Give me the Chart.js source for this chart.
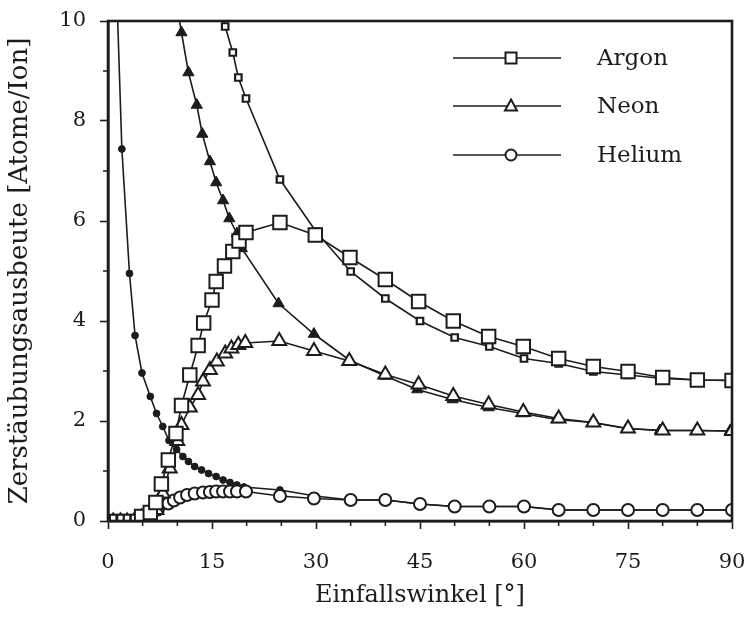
<!DOCTYPE html>
<html>
<head>
<meta charset="utf-8">
<script src="https://cdn.jsdelivr.net/npm/chart.js@4.4.1/dist/chart.umd.min.js"></script>
<style>
html,body{margin:0;padding:0;background:#fff;}
#wrap{width:747px;height:620px;}
</style>
</head>
<body>
<div id="wrap"><canvas id="c" width="747" height="620"></canvas></div>
<script>
// ---- data ----
const xTicks = [0, 15, 30, 45, 60, 75, 90];
const yTicks = [0, 2, 4, 6, 8, 10];

// Argon, rising curve (open squares)
const argonRiseX = [0.75, 1.8, 2.75, 3.75, 4.85, 6.1, 6.9, 7.7, 8.7, 9.8, 10.6, 11.8, 13.0, 13.8, 15.0, 15.6, 16.8, 18.0, 18.9, 19.9, 24.8, 29.9, 34.9, 40, 44.8, 49.8, 54.9, 59.9, 65, 70, 75, 80, 85, 90];
const argonRiseY = [0.06, 0.06, 0.06, 0.06, 0.09, 0.17, 0.37, 0.74, 1.22, 1.75, 2.31, 2.92, 3.51, 3.96, 4.42, 4.79, 5.10, 5.39, 5.60, 5.77, 5.97, 5.72, 5.27, 4.83, 4.39, 4.00, 3.69, 3.49, 3.25, 3.09, 2.99, 2.87, 2.82, 2.81];
// Argon, falling curve (small squares)
const argonFallX = [16, 16.9, 18.0, 18.8, 19.9, 24.8, 30, 35, 40, 45, 50, 55, 60, 65, 70, 75, 80, 85, 90];
const argonFallY = [10.35, 9.89, 9.37, 8.87, 8.45, 6.83, 5.79, 4.99, 4.45, 4.00, 3.67, 3.49, 3.25, 3.15, 2.99, 2.92, 2.85, 2.82, 2.81];

// Neon, rising curve (open triangles)
const neonRiseX = [0.75, 1.8, 2.75, 3.75, 4.85, 6.0, 7.0, 7.9, 8.9, 10.0, 10.6, 11.8, 13.0, 13.7, 14.7, 15.7, 16.9, 17.8, 18.8, 19.8, 24.7, 29.7, 34.8, 40, 44.8, 49.8, 54.9, 59.9, 65, 70, 75, 80, 85, 90];
const neonRiseY = [0.06, 0.06, 0.06, 0.06, 0.07, 0.10, 0.22, 0.55, 1.05, 1.60, 1.92, 2.27, 2.52, 2.79, 3.02, 3.19, 3.35, 3.45, 3.52, 3.56, 3.60, 3.40, 3.20, 2.93, 2.73, 2.50, 2.33, 2.18, 2.05, 1.97, 1.85, 1.81, 1.81, 1.80];
// Neon, falling curve (filled triangles)
const neonFallX = [10, 10.6, 11.6, 12.8, 13.6, 14.7, 15.6, 16.6, 17.5, 18.6, 19.3, 24.6, 29.7, 34.8, 40, 44.6, 49.7, 54.9, 59.8, 64.7, 69.8, 74.8, 79.6, 84.8, 89.7];
const neonFallY = [10.25, 9.77, 8.97, 8.32, 7.74, 7.19, 6.77, 6.41, 6.05, 5.75, 5.45, 4.35, 3.74, 3.22, 2.90, 2.63, 2.43, 2.27, 2.15, 2.03, 1.97, 1.85, 1.81, 1.81, 1.80];

// Helium, rising curve (open circles)
const heliumRiseX = [0.75, 1.8, 2.75, 3.75, 4.85, 7.2, 8.7, 9.5, 10.4, 11.4, 12.5, 13.7, 14.7, 15.6, 16.6, 17.6, 18.6, 19.9, 24.8, 29.7, 35, 40, 45, 50, 55, 60, 65, 70, 75, 80, 85, 90];
const heliumRiseY = [0.06, 0.06, 0.06, 0.06, 0.06, 0.23, 0.35, 0.41, 0.47, 0.52, 0.55, 0.57, 0.58, 0.59, 0.59, 0.59, 0.59, 0.59, 0.50, 0.45, 0.42, 0.42, 0.34, 0.29, 0.29, 0.29, 0.22, 0.22, 0.22, 0.22, 0.22, 0.22];
// Helium, falling curve (small filled circles)
const heliumFallX = [1, 2.0, 3.1, 3.9, 4.9, 6.1, 7.0, 7.9, 8.8, 9.9, 10.8, 11.6, 12.5, 13.5, 14.5, 15.6, 16.6, 17.6, 18.6, 19.6, 24.8, 29.9, 35, 40, 45, 50, 55, 60, 65, 70, 75, 80, 85, 90];
const heliumFallY = [11.7, 7.44, 4.95, 3.71, 2.96, 2.49, 2.15, 1.89, 1.61, 1.43, 1.29, 1.19, 1.09, 1.02, 0.95, 0.89, 0.82, 0.77, 0.72, 0.68, 0.62, 0.50, 0.42, 0.42, 0.34, 0.29, 0.29, 0.29, 0.22, 0.22, 0.22, 0.22, 0.22, 0.22];

const legendNames = ['Argon', 'Neon', 'Helium'];
const xTitle = 'Einfallswinkel [°]';
const yTitle = 'Zerstäubungsausbeute [Atome/Ion]';

// ---- styling ----
const INK = '#1c1c1c';
const FONT = "'DejaVu Serif', 'Liberation Serif', serif";

function pts(xs, ys) { return xs.map((x, i) => ({x: x, y: ys[i]})); }
function smallLow(big, small) {
  return function (ctx) { const r = ctx.raw; return (r && r.x < 4.5) ? small : big; };
}

function ds(label, xs, ys, style, radius, fill, bw) {
  return {
    label: label,
    data: pts(xs, ys),
    borderColor: INK,
    borderWidth: 1.6,
    pointStyle: style,
    pointRadius: radius,
    pointHoverRadius: radius,
    pointBackgroundColor: fill,
    pointBorderColor: INK,
    pointBorderWidth: bw,
    tension: 0,
    clip: 0,
    fill: false
  };
}

const datasets = [
  ds('Argon', argonRiseX, argonRiseY, 'rect', smallLow(9.5, 4.5), '#fff', 2),
  ds('Argon (fallend)', argonFallX, argonFallY, 'rect', 4.6, '#fff', 2.2),
  ds('Neon', neonRiseX, neonRiseY, 'triangle', smallLow(8, 4.5), '#fff', 2),
  ds('Neon (fallend)', neonFallX, neonFallY, 'triangle', 6.5, INK, 1),
  ds('Helium', heliumRiseX, heliumRiseY, 'circle', smallLow(6, 3.5), '#fff', 2),
  ds('Helium (fallend)', heliumFallX, heliumFallY, 'circle', 3.4, INK, 1)
];

// frame, minor ticks and legend
const decor = {
  id: 'decor',
  afterDraw(chart) {
    const {ctx, chartArea: a, scales: {x, y}} = chart;
    ctx.save();
    ctx.strokeStyle = INK;
    // minor ticks
    ctx.lineWidth = 1.5;
    ctx.beginPath();
    for (let v = 5; v < 90; v += 5) {
      if (v % 15 === 0) continue;
      const px = x.getPixelForValue(v);
      ctx.moveTo(px, a.bottom); ctx.lineTo(px, a.bottom + 5);
    }
    for (let v = 1; v < 10; v += 2) {
      const py = y.getPixelForValue(v);
      ctx.moveTo(a.left, py); ctx.lineTo(a.left - 5, py);
    }
    ctx.stroke();
    // frame
    ctx.lineWidth = 2.6;
    ctx.strokeRect(a.left, a.top, a.right - a.left, a.bottom - a.top);

    // legend
    const styles = ['rect', 'triangle', 'circle'];
    const rowY = [58, 106, 155];
    const x0 = 453, x1 = 561, mx = 511, tx = 597;
    ctx.font = "23px " + FONT;
    ctx.textBaseline = 'middle';
    ctx.fillStyle = INK;
    for (let i = 0; i < 3; i++) {
      const yy = rowY[i];
      ctx.lineWidth = 1.5;
      ctx.beginPath(); ctx.moveTo(x0, yy); ctx.lineTo(x1, yy); ctx.stroke();
      ctx.lineWidth = 2;
      ctx.beginPath();
      if (styles[i] === 'rect') {
        ctx.rect(mx - 5.5, yy - 5.5, 11, 11);
      } else if (styles[i] === 'triangle') {
        ctx.moveTo(mx, yy - 6.5); ctx.lineTo(mx + 6, yy + 4.5); ctx.lineTo(mx - 6, yy + 4.5); ctx.closePath();
      } else {
        ctx.arc(mx, yy, 5.5, 0, Math.PI * 2);
      }
      ctx.fillStyle = '#fff'; ctx.fill(); ctx.stroke();
      ctx.fillStyle = INK;
      ctx.fillText(legendNames[i], tx, yy + 1);
    }
    ctx.restore();
  }
};

function zeroPad(s) { s.paddingLeft = 0; s.paddingRight = 0; s.paddingTop = 0; s.paddingBottom = 0; }

new Chart(document.getElementById('c'), {
  type: 'line',
  data: {datasets: datasets},
  plugins: [decor],
  options: {
    responsive: false,
    animation: false,
    events: [],
    layout: {padding: {top: 21, right: 15, bottom: 0, left: 0}},
    plugins: {legend: {display: false}, tooltip: {enabled: false}, title: {display: false}},
    scales: {
      x: {
        type: 'linear', min: 0, max: 90,
        afterBuildTicks(s) { s.ticks = xTicks.map(v => ({value: v})); },
        afterFit(s) { s.height = 99; zeroPad(s); },
        grid: {drawOnChartArea: false, drawTicks: true, tickLength: 8, tickColor: INK, tickWidth: 1.6, color: INK},
        border: {display: true, color: INK, width: 2.6},
        ticks: {color: INK, font: {family: FONT, size: 21}, padding: 21, maxRotation: 0},
        title: {display: true, text: xTitle, color: INK, font: {family: FONT, size: 24}, padding: {top: 0, bottom: 10}}
      },
      y: {
        type: 'linear', min: 0, max: 10,
        afterBuildTicks(s) { s.ticks = yTicks.map(v => ({value: v})); },
        afterFit(s) { s.width = 108; zeroPad(s); },
        grid: {drawOnChartArea: false, drawTicks: true, tickLength: 8, tickColor: INK, tickWidth: 1.6, color: INK},
        border: {display: true, color: INK, width: 2.6},
        ticks: {color: INK, font: {family: FONT, size: 21}, padding: 14},
        title: {display: true, text: yTitle, color: INK, font: {family: FONT, size: 26}, padding: {top: 5, bottom: 0}}
      }
    }
  }
});
</script>
</body>
</html>
